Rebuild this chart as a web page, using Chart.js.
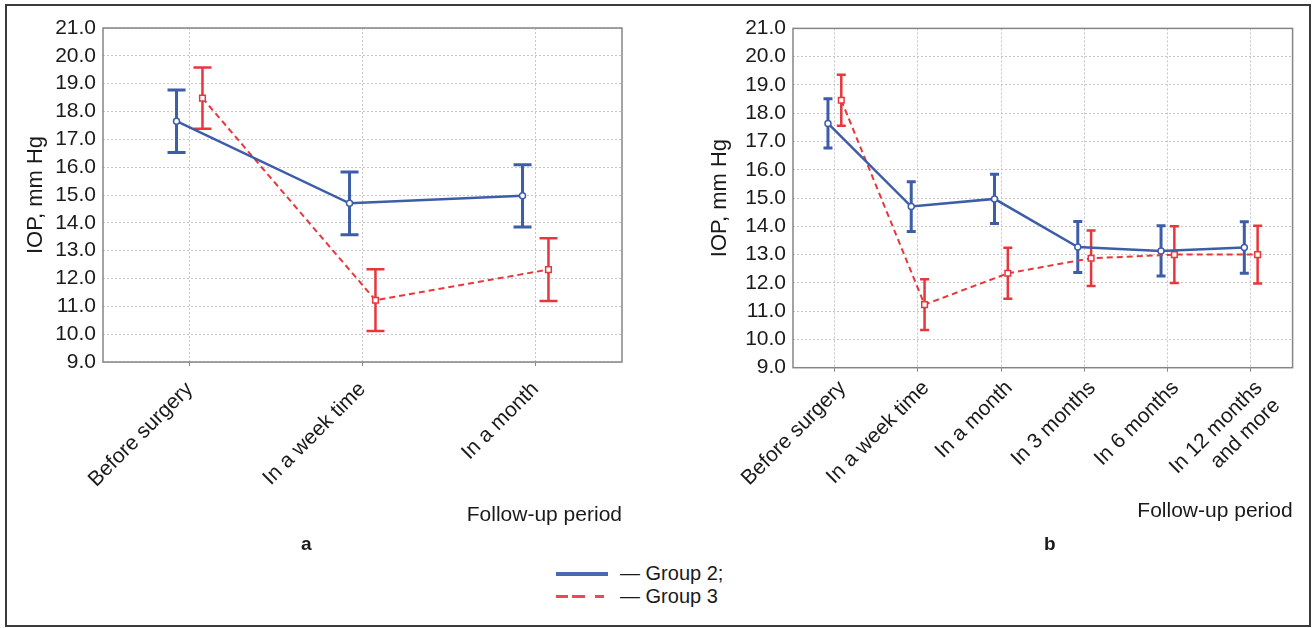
<!DOCTYPE html>
<html>
<head>
<meta charset="utf-8">
<script src="https://cdn.jsdelivr.net/npm/chart.js@4.4.1/dist/chart.umd.min.js"></script>
<style>
  html, body { margin: 0; padding: 0; background: #fff; }
  body { width: 1316px; height: 628px; position: relative; overflow: hidden;
         font-family: 'Liberation Sans', Arial, sans-serif; color: #1a1a1a; }
  .frame { position: absolute; left: 5px; top: 4px; width: 1302px; height: 619px; border: 2px solid #3a3a3a; }
  canvas { position: absolute; top: 0; }
  #chartA { left: 0; }
  #chartB { left: 660px; }
  .tag { position: absolute; top: 533px; font-weight: bold; font-size: 19px; }
  .legend { position: absolute; left: 556px; top: 562px; font-size: 20px; line-height: 23px; }
  .legend .row { display: flex; align-items: center; height: 23px; }
  .legend .swatch { width: 52px; margin-right: 12px; display: flex; gap: 4px; }
  .legend .solid { height: 4px; background: #4a68b4; }
  .legend .dash { height: 3px; background: #ec4a4e; }
</style>
</head>
<body>
<div class="frame"></div>
<canvas id="chartA" width="650" height="560"></canvas>
<canvas id="chartB" width="656" height="560"></canvas>
<div class="tag" style="left:301px">a</div>
<div class="tag" style="left:1044px">b</div>
<div class="legend">
  <div class="row"><div class="swatch"><div class="solid" style="width:52px"></div></div>— Group 2;</div>
  <div class="row"><div class="swatch"><div class="dash" style="width:12px"></div><div class="dash" style="width:13px"></div><div class="dash" style="width:9px;margin-left:6px"></div></div>— Group 3</div>
</div>
<script>
// panel a
const periodsA = ['Before surgery', 'In a week time', 'In a month'];
const group2A = [17.65, 14.70, 14.97];
const group2ErrA = [1.12, 1.13, 1.12];
const group3A = [18.48, 11.22, 12.32];
const group3ErrA = [1.10, 1.11, 1.13];

// panel b
const periodsB = ['Before surgery', 'In a week time', 'In a month', 'In 3 months', 'In 6 months', ['In 12 months', 'and more']];
const group2B = [17.64, 14.70, 14.97, 13.27, 13.13, 13.25];
const group2ErrB = [0.87, 0.88, 0.87, 0.90, 0.89, 0.91];
const group3B = [18.46, 11.23, 12.34, 12.87, 13.00, 13.00];
const group3ErrB = [0.90, 0.90, 0.90, 0.98, 1.00, 1.02];

const yTicks = [9, 10, 11, 12, 13, 14, 15, 16, 17, 18, 19, 20, 21];

const FONT = "'Liberation Sans', Arial, sans-serif";
const TEXT = '#1a1a1a';
const BLUE = '#3e5da9';
const RED = '#e8373c';

// vertical error bars + the grey box round the plot
const errorBars = {
  id: 'errorBars',
  beforeDatasetsDraw(chart, args, opts) {
    const { ctx, chartArea: a, scales: { x, y } } = chart;
    ctx.save();
    ctx.setLineDash([]);
    ctx.strokeStyle = '#858585';
    ctx.lineWidth = 1.5;
    ctx.strokeRect(a.left, a.top, a.width, a.height);
    chart.data.datasets.forEach(ds => {
      ctx.strokeStyle = ds.borderColor;
      ctx.lineWidth = ds.errorWidth;
      ds.data.forEach((pt, i) => {
        const px = x.getPixelForValue(pt.x);
        const top = y.getPixelForValue(pt.y + ds.errors[i]);
        const bot = y.getPixelForValue(pt.y - ds.errors[i]);
        const c = opts.cap / 2;
        ctx.beginPath();
        ctx.moveTo(px, top); ctx.lineTo(px, bot);
        ctx.moveTo(px - c, top); ctx.lineTo(px + c, top);
        ctx.moveTo(px - c, bot); ctx.lineTo(px + c, bot);
        ctx.stroke();
      });
    });
    ctx.restore();
  }
};

function makeChart(id, cats, g2, e2, g3, e3, cfg) {
  return new Chart(document.getElementById(id), {
    type: 'line',
    data: {
      datasets: [
        {
          label: 'Group 2',
          data: g2.map((v, i) => ({ x: i - cfg.dodge, y: v })),
          errors: e2,
          errorWidth: 3,
          borderColor: BLUE,
          borderWidth: 2.5,
          tension: 0,
          pointStyle: 'circle',
          pointRadius: 3,
          pointBorderWidth: 1.5,
          pointBorderColor: BLUE,
          pointBackgroundColor: '#fff'
        },
        {
          label: 'Group 3',
          data: g3.map((v, i) => ({ x: i + cfg.dodge, y: v })),
          errors: e3,
          errorWidth: 2.5,
          borderColor: RED,
          borderWidth: 2,
          borderDash: [6, 4],
          tension: 0,
          pointStyle: 'rect',
          pointRadius: 4,
          pointBorderWidth: 1.5,
          pointBorderColor: RED,
          pointBackgroundColor: '#fff'
        }
      ]
    },
    options: {
      responsive: false,
      animation: false,
      devicePixelRatio: 1,
      events: [],
      layout: { padding: cfg.padding },
      plugins: {
        legend: { display: false },
        tooltip: { enabled: false },
        errorBars: { cap: cfg.cap }
      },
      scales: {
        x: {
          type: 'linear',
          bounds: 'data',
          min: -0.5,
          max: cats.length - 0.5,
          afterBuildTicks: s => { s.ticks = cats.map((c, i) => ({ value: i })); },
          afterFit: s => { s.height = cfg.xHeight; s.paddingLeft = 0; s.paddingRight = 0; },
          ticks: {
            autoSkip: false, minRotation: 45, maxRotation: 45,
            padding: cfg.tickPad, labelOffset: cfg.labelShift,
            color: TEXT, font: { family: FONT, size: 21 },
            callback: v => cats[v]
          },
          grid: { color: '#c6c6c6', lineWidth: 1, drawTicks: true, tickLength: 4, tickColor: '#888', tickBorderDash: [] },
          border: { display: false, dash: [2, 2] },
          title: {
            display: true, text: 'Follow-up period', align: 'end', color: TEXT,
            font: { family: FONT, size: 21 }, padding: { top: 4, bottom: 4 }
          }
        },
        y: {
          bounds: 'data',
          min: 9,
          max: 21,
          afterBuildTicks: s => { s.ticks = yTicks.map(v => ({ value: v })); },
          afterFit: s => { s.width = cfg.yWidth; s.paddingTop = 0; s.paddingBottom = 0; },
          ticks: {
            autoSkip: false, padding: 7, color: TEXT, font: { family: FONT, size: 21 },
            callback: v => v.toFixed(1)
          },
          grid: { color: '#c6c6c6', lineWidth: 1, drawTicks: false },
          border: { display: false, dash: [2, 2] },
          title: {
            display: true, text: 'IOP, mm Hg', color: TEXT,
            font: { family: FONT, size: 22 }, padding: { top: 2, bottom: 0 }
          }
        }
      }
    },
    plugins: [errorBars]
  });
}

makeChart('chartA', periodsA, group2A, group2ErrA, group3A, group3ErrA, {
  dodge: 0.075, cap: 18, tickPad: 11, labelShift: 0,
  padding: { left: 20.8, top: 28, right: 28, bottom: 28.4 },
  yWidth: 82.2, xHeight: 169.6
});

makeChart('chartB', periodsB, group2B, group2ErrB, group3B, group3ErrB, {
  dodge: 0.08, cap: 9, tickPad: 4, labelShift: 8,
  padding: { left: 44.8, top: 28.4, right: 23.4, bottom: 31.7 },
  yWidth: 88.2, xHeight: 160.6
});
</script>
</body>
</html>
